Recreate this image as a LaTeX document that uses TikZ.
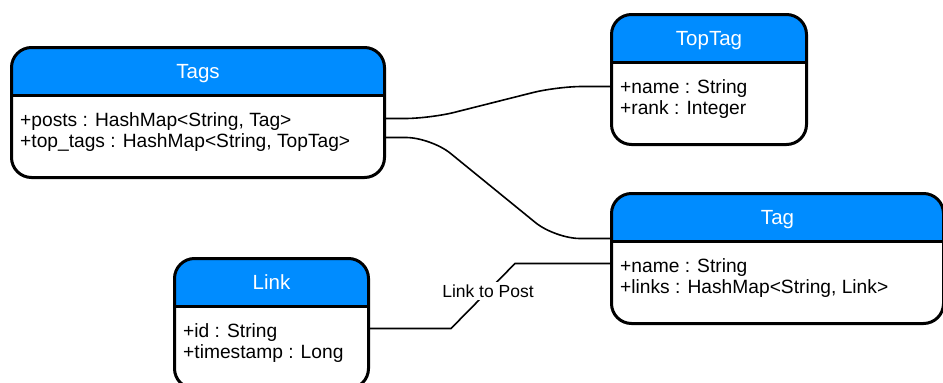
\documentclass[tikz,border=0pt]{standalone}
\usepackage{fontspec}
\setmainfont{Liberation Sans}
\definecolor{hdrblue}{RGB}{0,140,255}
\begin{document}
\begin{tikzpicture}[x=1pt,y=-1pt,
  classbox/.style={draw,line width=3pt,rounded corners=20pt,minimum height=130pt,
    anchor=north west,inner sep=0pt,
    path picture={
      \fill[hdrblue,sharp corners] (path picture bounding box.north west)
        rectangle ([yshift=-48pt]path picture bounding box.north east);
      \draw[line width=2.5pt,sharp corners] ([yshift=-48pt]path picture bounding box.north west)
        -- ([yshift=-48pt]path picture bounding box.north east);
    }},
  classtitle/.style={text=white,font=\fontsize{20.5}{24}\selectfont,anchor=base,inner sep=0pt},
  classbody/.style={font=\fontsize{19.2}{21}\selectfont,align=left,anchor=base west,inner sep=0pt},
  conn/.style={line width=1.6pt,rounded corners=25pt},
  lbl/.style={fill=white,font=\fontsize{17.5}{20}\selectfont,inner sep=3pt}]
\useasboundingbox (0,0) rectangle (943,383);

% classes
\node[classbox,minimum width=373pt] (tags) at (10,46) {};
\node[classbox,minimum width=195pt] (toptag) at (610,13) {};
\node[classbox,minimum width=332pt] (tag) at (610,192) {};
\node[classbox,minimum width=194pt] (link) at (173,257) {};

\node[classtitle] (tagstitle) at ([yshift=-32pt]tags.north) {Tags};
\node[classtitle] (toptagtitle) at ([yshift=-32pt]toptag.north) {TopTag};
\node[classtitle] (tagtitle) at ([yshift=-32pt]tag.north) {Tag};
\node[classtitle] (linktitle) at ([yshift=-32pt]link.north) {Link};

% base of a two line body is its last line
\node[classbody] (tagsbody) at ([xshift=10pt,yshift=-101pt]tags.north west)
  {+posts : HashMap<String, Tag>\\+top\_tags : HashMap<String, TopTag>};
\node[classbody] (toptagbody) at ([xshift=10pt,yshift=-101pt]toptag.north west)
  {+name : String\\+rank : Integer};
\node[classbody] (tagbody) at ([xshift=10pt,yshift=-101pt]tag.north west)
  {+name : String\\+links : HashMap<String, Link>};
\node[classbody] (linkbody) at ([xshift=10pt,yshift=-101pt]link.north west)
  {+id : String\\+timestamp : Long};

% relations
\draw[conn] ([yshift=-6pt]tags.east) -- ++(44,0)
  -- ([xshift=-53pt,yshift=-7pt]toptag.west) -- ([yshift=-7pt]toptag.west);
\draw[conn] ([yshift=-25pt]tags.east) -- ++(45,0)
  -- ([xshift=-55pt,yshift=20pt]tag.west) -- ([yshift=20pt]tag.west);
\draw[line width=1.6pt] ([yshift=-5pt]tag.west) -- ++(-95,0)
  -- node[lbl,xshift=5pt,yshift=5pt] (linklbl) {Link to Post} ([xshift=81pt,yshift=-5pt]link.east)
  -- ([yshift=-5pt]link.east);

\end{tikzpicture}
\end{document}
